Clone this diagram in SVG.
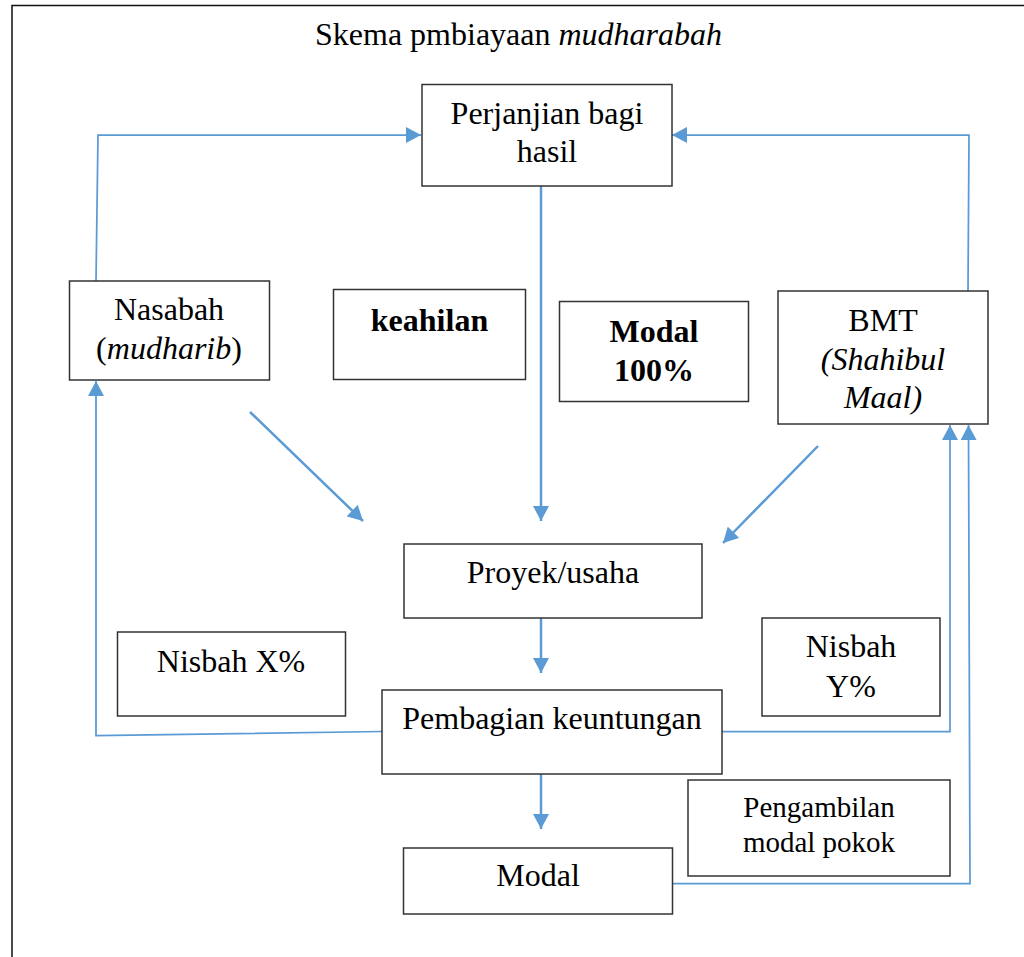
<svg xmlns="http://www.w3.org/2000/svg" width="1024" height="957" viewBox="0 0 1024 957">
<style>
.box{fill:#fff;stroke:#333;stroke-width:1.5}
.t{font-family:"Liberation Serif","Times New Roman",serif;font-size:32px;fill:#000;text-anchor:middle}
.b{font-weight:bold}
.i{font-style:italic}
.c{fill:none;stroke:#5B9BD5;stroke-width:2.5}
.cl{fill:none;stroke:#5B9BD5;stroke-width:1.75}
</style>
<defs>
<marker id="ah" viewBox="0 0 15 16" refX="15" refY="8" markerWidth="15" markerHeight="16" markerUnits="userSpaceOnUse" orient="auto">
<path d="M0,0 L15,8 L0,16 z" fill="#5B9BD5"/>
</marker>
</defs>
<rect width="1024" height="957" fill="#fff"/>
<path d="M12,957 V5.5 H1024" fill="none" stroke="#111" stroke-width="1.5"/>
<text id="title" class="t" x="315" y="45" style="text-anchor:start">Skema pmbiayaan <tspan class="i">mudharabah</tspan></text>

<g id="connectors">
<polyline class="cl" points="96,281 98,135 421,135" marker-end="url(#ah)"/>
<polyline class="cl" points="968,291 969,135 672,135" marker-end="url(#ah)"/>
<line class="c" x1="541" y1="186" x2="541" y2="521" marker-end="url(#ah)"/>
<line class="c" x1="250" y1="412" x2="363" y2="521" marker-end="url(#ah)"/>
<line class="c" x1="818" y1="446" x2="723" y2="543" marker-end="url(#ah)"/>
<line class="c" x1="541" y1="618" x2="541" y2="673" marker-end="url(#ah)"/>
<line class="c" x1="541" y1="774" x2="541" y2="829" marker-end="url(#ah)"/>
<polyline class="cl" points="382,731.5 96,735.5 96,381" marker-end="url(#ah)"/>
<polyline class="cl" points="722,731.5 950,731.5 950,425" marker-end="url(#ah)"/>
<polyline class="cl" points="672,883.5 970,883.5 968.5,425" marker-end="url(#ah)"/>
</g>

<g id="perjanjian">
<rect class="box" x="422" y="84.5" width="250" height="101.5"/>
<text class="t" x="547" y="124">Perjanjian bagi</text>
<text class="t" x="547" y="162">hasil</text>
</g>
<g id="nasabah">
<rect class="box" x="69.5" y="281" width="200" height="99"/>
<text class="t" x="169" y="320">Nasabah</text>
<text class="t" x="169" y="359">(<tspan class="i">mudharib</tspan>)</text>
</g>
<g id="keahilan">
<rect class="box" x="333.5" y="289.5" width="192" height="90"/>
<text class="t b" x="429.5" y="331">keahilan</text>
</g>
<g id="modal100">
<rect class="box" x="559.5" y="301.5" width="189" height="100"/>
<text class="t b" x="654" y="342">Modal</text>
<text class="t b" x="654" y="381">100%</text>
</g>
<g id="bmt">
<rect class="box" x="778" y="291" width="210" height="133"/>
<text class="t" x="883" y="331">BMT</text>
<text class="t i" x="883" y="370">(Shahibul</text>
<text class="t i" x="883" y="408">Maal)</text>
</g>
<g id="proyek">
<rect class="box" x="404" y="544" width="298" height="74"/>
<text class="t" x="553" y="583">Proyek/usaha</text>
</g>
<g id="nisbahx">
<rect class="box" x="117.5" y="632" width="228" height="84"/>
<text class="t" x="231" y="672">Nisbah X%</text>
</g>
<g id="nisbahy">
<rect class="box" x="762" y="618" width="178" height="98"/>
<text class="t" x="851" y="657">Nisbah</text>
<text class="t" x="851" y="697">Y%</text>
</g>
<g id="pembagian">
<rect class="box" x="382" y="690" width="340" height="84"/>
<text class="t" x="552" y="729">Pembagian keuntungan</text>
</g>
<g id="pengambilan">
<rect class="box" x="688" y="780" width="262" height="96"/>
<text class="t" x="819" y="817" style="font-size:29px">Pengambilan</text>
<text class="t" x="819" y="852" style="font-size:29px">modal pokok</text>
</g>
<g id="modal">
<rect class="box" x="403.5" y="848" width="269" height="66"/>
<text class="t" x="538" y="886">Modal</text>
</g>
</svg>
